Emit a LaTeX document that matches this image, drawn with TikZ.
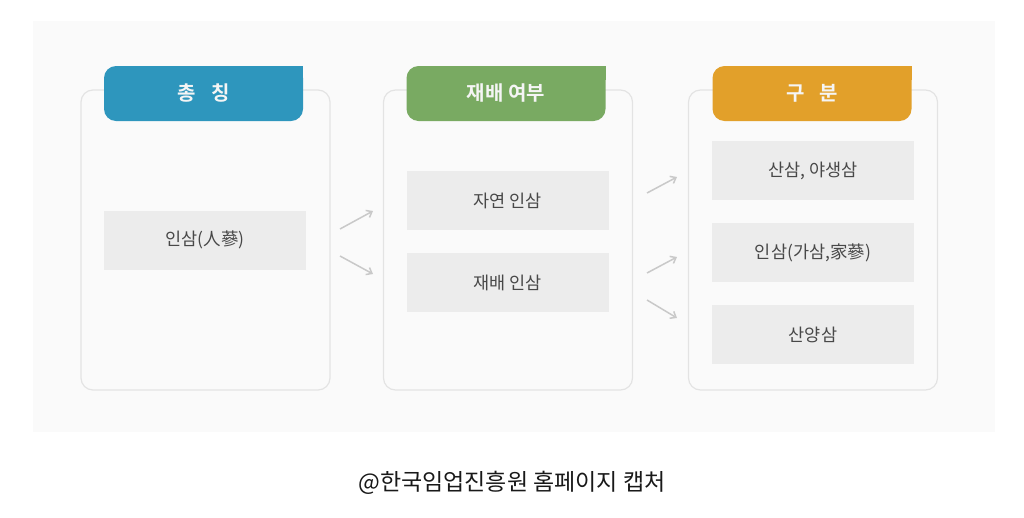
\documentclass[tikz,border=0pt]{standalone}
\usepackage{fontspec}
\setmainfont{Noto Sans CJK KR}
\newfontfamily\krbold{Noto Sans CJK KR Bold}
\usetikzlibrary{arrows.meta}
\definecolor{panelbg}{HTML}{FAFAFA}
\definecolor{outerline}{HTML}{E3E3E3}
\definecolor{innerfill}{HTML}{ECECEC}
\definecolor{innertext}{HTML}{484848}
\definecolor{hblue}{HTML}{2E96BD}
\definecolor{hgreen}{HTML}{79AA62}
\definecolor{horange}{HTML}{E2A02A}
\definecolor{arrowgray}{HTML}{C9C9C9}
\tikzset{
  outerbox/.style={draw=outerline, line width=1.2pt, fill=panelbg, rounded corners=12pt,
    minimum width=249pt, minimum height=300pt, inner sep=0pt, outer sep=0pt},
  innerbox/.style={fill=innerfill, minimum width=202pt, minimum height=59pt, inner sep=0pt,
    outer sep=0pt, text=innertext, font=\fontsize{17.5}{20}\selectfont},
  headbox/.style={rounded corners=12pt, minimum width=199pt, minimum height=55pt, inner sep=0pt,
    outer sep=0pt},
  headtext/.style={text=white!96!black, font=\krbold\fontsize{20}{24}\selectfont},
  flowarrow/.style={draw=arrowgray, line width=1.5pt, -{Straight Barb[length=5pt,width=8pt]}},
}
\begin{document}
\begin{tikzpicture}[x=1pt,y=-1pt]
\useasboundingbox (0,0) rectangle (1024,517);
\fill[white] (0,0) rectangle (1024,517);
\fill[panelbg] (33,21) rectangle (995,432);
% outer boxes
\node[outerbox] (o1) at (205.5,240) {};
\node[outerbox] (o2) at (508,240) {};
\node[outerbox] (o3) at (813,240) {};
% headers
\node[headbox, fill=hblue] (h1) at (203.5,93.5) {};
\fill[hblue] (291,66) rectangle (303,80);
\node[headtext] (t1) at (h1) {총\hspace{0.75em}칭};
\node[headbox, fill=hgreen] (h2) at (506,93.5) {};
\fill[hgreen] (594,66) rectangle (606,80);
\node[headtext] (t2) at (h2) {재배 여부};
\node[headbox, fill=horange] (h3) at (812,93.5) {};
\fill[horange] (900,66) rectangle (912,80);
\node[headtext] (t3) at (h3) {구\hspace{0.75em}분};
% inner boxes
\node[innerbox] (a1) at (205,240) {인삼(人蔘)};
\node[innerbox] (b1) at (507.5,200.5) {자연 인삼};
\node[innerbox] (b2) at (507.5,282.5) {재배 인삼};
\node[innerbox] (c1) at (813,170.5) {산삼, 야생삼};
\node[innerbox] (c2) at (813,252.5) {인삼(가삼,家蔘)};
\node[innerbox] (c3) at (813,334.5) {산양삼};
% arrows
\coordinate (p1s) at (340,229); \coordinate (p1e) at (373,211);
\coordinate (p2s) at (340,256); \coordinate (p2e) at (373,274);
\coordinate (q1s) at (647,193); \coordinate (q1e) at (677,177);
\coordinate (q2s) at (647,273); \coordinate (q2e) at (677,257);
\coordinate (q3s) at (647,300); \coordinate (q3e) at (677,318);
\draw[flowarrow] (p1s) -- (p1e);
\draw[flowarrow] (p2s) -- (p2e);
\draw[flowarrow] (q1s) -- (q1e);
\draw[flowarrow] (q2s) -- (q2e);
\draw[flowarrow] (q3s) -- (q3e);
% caption
\node[font=\fontsize{23}{27}\selectfont, text=black!90] (cap) at (512,483) {@한국임업진흥원 홈페이지 캡처};
\end{tikzpicture}
\end{document}
